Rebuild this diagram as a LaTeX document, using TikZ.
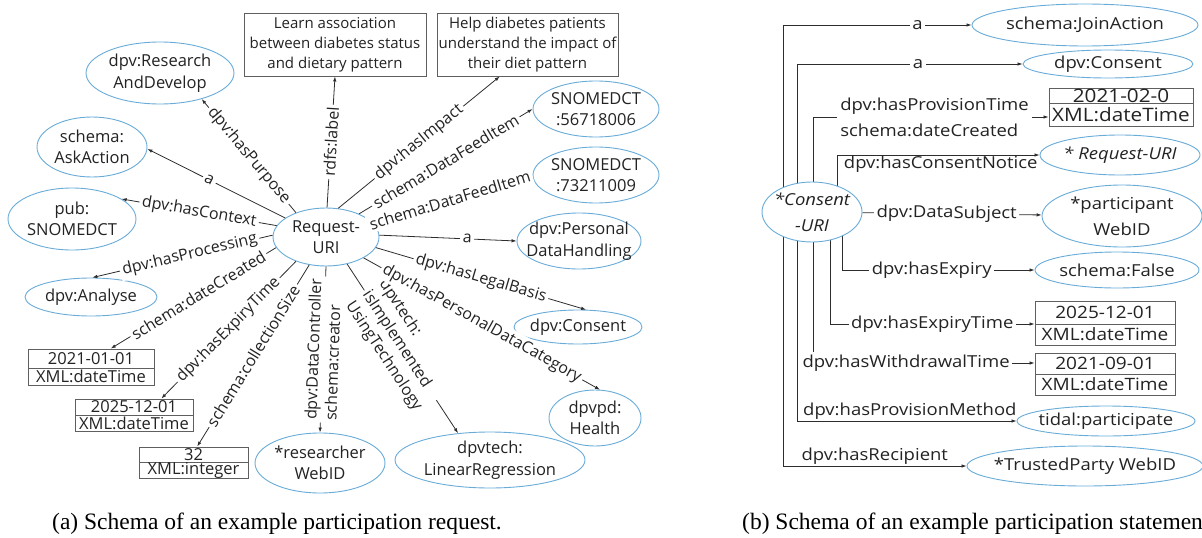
\documentclass[tikz,border=0pt]{standalone}
\usepackage{fontspec}
\setmainfont{Open Sans}
\newfontfamily\capfont{Liberation Serif}
\newfontfamily\rfam{Open Sans}[FakeStretch=1.12]
\usetikzlibrary{arrows.meta,backgrounds,shapes.geometric}
\definecolor{ellc}{RGB}{105,172,216}
\definecolor{linec}{RGB}{45,45,45}
\definecolor{txtc}{RGB}{35,35,35}
\definecolor{boxc}{RGB}{95,95,95}
\newcommand\myLE{\fontsize{16.5}{21.5}\selectfont}
\newcommand\myLB{\fontsize{16}{20}\selectfont}
\newcommand\myRF{\rfam\fontsize{16.5}{26}\selectfont}
\begin{document}
\begin{tikzpicture}[x=1pt,y=-1pt,
  every node/.style={font=\myLB, text=txtc},
  ell/.style={ellipse, draw=ellc, line width=0.9pt, fill=white, inner sep=0pt},
  et/.style={align=center, inner sep=0pt, font=\myLE},
  rt/.style={align=center, inner sep=0pt, font=\myRF},
  rti/.style={align=center, inner sep=0pt, font=\myRF\itshape},
  edge/.style={draw=linec, line width=0.8pt, -{Latex[length=5pt,width=3.5pt]}},
  lbl/.style={sloped, fill=white, inner sep=2.5pt},
  rl/.style={font=\myRF},
  tbox/.style={draw=boxc, line width=0.9pt, fill=white, inner sep=0pt},
  btxt/.style={inner sep=0pt, font=\myLE},
  rb/.style={inner sep=0pt, font=\rfam\fontsize{17}{20}\selectfont},
  divl/.style={draw=boxc, line width=0.9pt},
  captxt/.style={font=\capfont\fontsize{23.5}{28}\selectfont, text=black, anchor=base west, inner sep=0pt}
]
\useasboundingbox (0,0) rectangle (1202,538);
\clip (0,0) rectangle (1202,538);

% ---------------- (a) ----------------
\node[ell, minimum width=106pt, minimum height=58pt, label={[et]center:{Request-\\URI}}] (req) at (326,237) {};
\node[ell, minimum width=148pt, minimum height=62pt, label={[et]center:{dpv:Research\\AndDevelop}}] (rd) at (160,73) {};
\node[ell, minimum width=110pt, minimum height=60pt, label={[et]center:{schema:\\AskAction}}] (ask) at (92,147) {};
\node[ell, minimum width=128pt, minimum height=62pt, label={[et]center:{pub:\\SNOMEDCT}}] (pub) at (72,219) {};
\node[ell, minimum width=132pt, minimum height=38pt, label={[et]center:{dpv:Analyse}}] (ana) at (91,297) {};
\node[ell, minimum width=126pt, minimum height=56pt, label={[et]center:{SNOMEDCT\\:56718006}}] (s1) at (596,109) {};
\node[ell, minimum width=126pt, minimum height=56pt, label={[et]center:{SNOMEDCT\\:73211009}}] (s2) at (596,175) {};
\node[ell, minimum width=124pt, minimum height=56pt, label={[et]center:{dpv:Personal\\DataHandling}}] (pdh) at (579,241) {};
\node[ell, minimum width=128pt, minimum height=34pt, label={[et]center:{dpv:Consent}}] (cl) at (578,327) {};
\node[ell, minimum width=92pt, minimum height=56pt, label={[et]center:{dpvpd:\\Health}}] (hl) at (595,418) {};
\node[ell, minimum width=190pt, minimum height=56pt, label={[et]center:{dpvtech:\\LinearRegression}}] (lr) at (490,460) {};
\node[ell, minimum width=130pt, minimum height=60pt, label={[et]center:{*researcher\\WebID}}] (rw) at (320,463) {};

\node[tbox, minimum width=182pt, minimum height=63pt, align=center, font=\fontsize{15}{20}\selectfont] (lb) at (335,44.5) {Learn association\\between diabetes status\\and dietary pattern};
\node[tbox, minimum width=181pt, minimum height=63pt, align=center, font=\fontsize{15}{20}\selectfont] (hb) at (527.5,44.5) {Help diabetes patients\\understand the impact of\\their diet pattern};

\node[tbox, minimum width=126pt, minimum height=36pt] (b1) at (91,367) {};
\draw[divl] (28,368) -- (154,368);
\node[btxt] (b1t) at (91,358.5) {2021-01-01};
\node[btxt] (b1b) at (91,376.5) {XML:dateTime};
\node[tbox, minimum width=118pt, minimum height=32pt] (b2) at (134,415) {};
\draw[divl] (75,415) -- (193,415);
\node[btxt] (b2t) at (134,407) {2025-12-01};
\node[btxt] (b2b) at (134,423.5) {XML:dateTime};
\node[tbox, minimum width=109pt, minimum height=31pt] (b3) at (193.5,462.5) {};
\draw[divl] (139,462) -- (248,462);
\node[btxt] (b3t) at (193.5,454.5) {32};
\node[btxt] (b3b) at (193.5,470.5) {XML:integer};

\draw[edge] (req.141) -- node[lbl]{dpv:hasPurpose} (rd.328);
\draw[edge] (req.155) -- node[lbl,pos=0.55]{a} (ask.358);
\draw[edge] (req.167) -- node[lbl]{dpv:hasContext} (pub.22);
\draw[edge] (req.178) -- node[lbl,pos=0.46]{dpv:hasProcessing} (ana.86);
\draw[edge] (req.192) -- node[lbl,pos=0.47]{schema:dateCreated} (b1.43);
\draw[edge] (req.219) -- node[lbl]{dpv:hasExpiryTime} (b2.31);
\draw[edge] (req.239) -- node[lbl]{schema:collectionSize} (b3.77);
\draw[edge] (req.270) -- node[lbl,align=left]{dpv:DataController\\schema:creator} (rw.90);
\draw[edge] (req.308) -- node[lbl,align=left,pos=0.48]{dpvtech:\\isImplemented\\UsingTechnology} (lr.140);
\draw[edge] (req.331) -- node[lbl]{dpv:hasPersonalDataCategory} (hl.80);
\draw[edge] (req.348) -- node[lbl]{dpv:hasLegalBasis} (cl.65);
\draw[edge] (req.2) -- node[lbl,pos=0.64]{a} (pdh.180);
\draw[edge] (req.16) -- node[lbl,pos=0.48]{schema:DataFeedItem} (s2.180);
\draw[edge] (req.35) -- node[lbl]{schema:DataFeedItem} (s1.180);
\draw[edge] (req.67) -- node[lbl]{dpv:hasImpact} (hb.229);
\draw[edge] (req.88) -- node[lbl]{rdfs:label} (lb.270);

\node[captxt] (capa) at (52,529) {(a) Schema of an example participation request.};

% ---------------- (b) ----------------
\node[ell, minimum width=100pt, minimum height=60pt, label={[rti]center:{*Consent\\-URI}}] (cu) at (812,212) {};
\node[ell, minimum width=226pt, minimum height=42pt, label={[rt]center:{schema:JoinAction}}] (ja) at (1085,25) {};
\node[ell, minimum width=170pt, minimum height=28pt, label={[rt]center:{dpv:Consent}}] (dc) at (1108,64) {};
\node[ell, minimum width=160pt, minimum height=40pt, label={[rti]center:{* Request-URI}}] (ru) at (1120,155) {};
\node[ell, minimum width=160pt, minimum height=62pt, label={[rt]center:{*participant\\WebID}}] (pw) at (1122,216) {};
\node[ell, minimum width=164pt, minimum height=36pt, label={[rt]center:{schema:False}}] (sf) at (1117,270) {};
\node[ell, minimum width=178pt, minimum height=30pt, label={[rt]center:{tidal:participate}}] (tp) at (1106,421) {};
\node[ell, minimum width=236pt, minimum height=40pt, label={[rt]center:{*TrustedParty WebID}}] (tw) at (1085,466) {};

\node[tbox, minimum width=144pt, minimum height=38pt] (rb1) at (1121,107) {};
\draw[divl] (1049,103) -- (1193,103);
\node[rb, font=\rfam\fontsize{18.5}{20}\selectfont] (rb1t) at (1121,95.5) {2021-02-0};
\node[rb, font=\rfam\fontsize{18.5}{20}\selectfont] (rb1b) at (1121,115) {XML:dateTime};
\node[tbox, minimum width=140pt, minimum height=44pt] (rb2) at (1105,323) {};
\draw[divl] (1035,324) -- (1175,324);
\node[rb] (rb2t) at (1105,312.5) {2025-12-01};
\node[rb] (rb2b) at (1105,334.5) {XML:dateTime};
\node[tbox, minimum width=140pt, minimum height=42pt] (rb3) at (1105,374) {};
\draw[divl] (1035,374) -- (1175,374);
\node[rb] (rb3t) at (1105,363) {2021-09-01};
\node[rb] (rb3b) at (1105,384.5) {XML:dateTime};

\begin{pgfonlayer}{background}
\draw[edge] ([xshift=-29pt]cu.center) |- node[lbl,rl,pos=0.857]{a} (ja.west);
\draw[edge] ([xshift=-15pt]cu.center) |- node[lbl,rl,pos=0.768]{a} (dc.west);
\draw[edge] ([xshift=1pt]cu.center) |- node[rl,fill=white,inner sep=3pt,align=left,pos=0.758]{dpv:hasProvisionTime\\schema:dateCreated} ([yshift=-10pt]rb1.west);
\draw[edge] ([xshift=25pt]cu.center) |- node[rl,pos=0.756,below,inner sep=1pt]{dpv:hasConsentNotice} (ru.west);
\draw[edge] (cu) -- node[lbl,rl,pos=0.47]{dpv:DataSubject} (pw);
\draw[edge] ([xshift=30pt]cu.center) |- node[lbl,rl,pos=0.733]{dpv:hasExpiry} (sf.west);
\draw[edge] ([xshift=18pt]cu.center) |- node[lbl,rl,pos=0.75]{dpv:hasExpiryTime} ([yshift=-1pt]rb2.west);
\draw[edge] ([xshift=1pt]cu.center) |- node[lbl,rl,pos=0.71]{dpv:hasWithdrawalTime} ([yshift=11pt]rb3.west);
\draw[edge] ([xshift=-15pt]cu.center) |- node[rl,pos=0.757,above,inner sep=1pt]{dpv:hasProvisionMethod} (tp.west);
\draw[edge] ([xshift=-29pt]cu.center) |- node[rl,pos=0.75,above,inner sep=1pt]{dpv:hasRecipient} (tw.west);
\end{pgfonlayer}

\node[captxt] (capb) at (742,529) {(b) Schema of an example participation statement.};
\end{tikzpicture}
\end{document}
